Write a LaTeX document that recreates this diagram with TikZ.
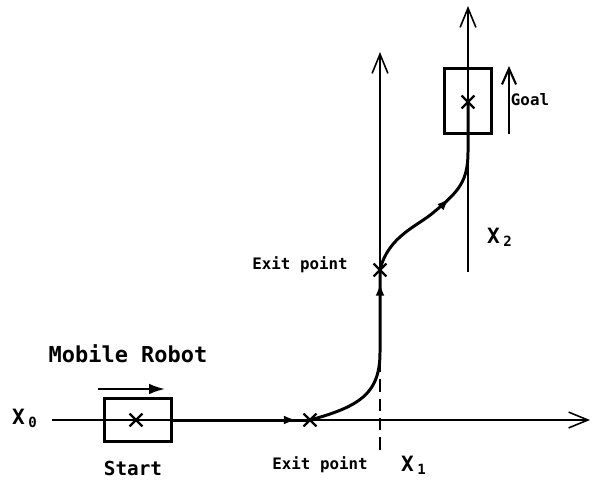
\documentclass[tikz,border=0pt]{standalone}
\usepackage{fontspec}
\setmainfont{DejaVu Sans Mono}
\usetikzlibrary{arrows.meta, positioning, shapes.misc, decorations.markings}

\tikzset{
  axis/.style={line width=0.9pt, -{Straight Barb[length=11pt, width=9pt, line width=0.9pt]}},
  track/.style={line width=1.7pt},
  xmark/.style={cross out, draw, line width=1.3pt, minimum size=6pt, inner sep=0pt},
  robotbox/.style={draw, line width=1.2pt, inner sep=0pt},
  midarrow/.style={postaction={decorate}, decoration={markings, mark=at position #1 with {\arrow{Latex[length=7pt, width=5pt]}}}},
  lbl/.style={font=\fontsize{9}{10}\selectfont\bfseries}
}

\begin{document}
\begin{tikzpicture}[x=0.02cm, y=-0.02cm]
  \useasboundingbox (0,0) rectangle (594,487);
  % axes
  \coordinate (a0) at (52,420);  \coordinate (a1) at (590,420);
  \coordinate (v0) at (380,360); \coordinate (v1) at (380,52);
  \coordinate (d1) at (380,452);
  \coordinate (w0) at (468,272); \coordinate (w1) at (468,6);
  \draw[axis] (a0) -- (a1);
  \draw[axis] (v0) -- (v1);
  \draw[line width=0.9pt, dashed, dash pattern=on 7pt off 4pt] (v0) -- (d1);
  \draw[axis] (w0) -- (w1);
  \node[font=\fontsize{12}{12}\selectfont\bfseries] (x0) at (25,418) {X\,\textsubscript{0}};
  \node[font=\fontsize{12}{12}\selectfont\bfseries] (x1) at (414,465) {X\,\textsubscript{1}};
  \node[font=\fontsize{12}{12}\selectfont\bfseries] (x2) at (500,237) {X\,\textsubscript{2}};

  % start and goal
  \node[robotbox, minimum width=1.34cm, minimum height=0.86cm] (start) at (138,420) {};
  \node[xmark] (sx) at (136,420) {};
  \node[robotbox, minimum width=0.94cm, minimum height=1.3cm] (goal) at (468,101) {};
  \node[xmark] (gx) at (468,102) {};
  \node[xmark] (exA) at (310,420) {};
  \node[xmark] (exB) at (380,270) {};

  % driving directions
  \coordinate (r0) at (98,389);  \coordinate (r1) at (165,389);
  \coordinate (g0) at (509,134); \coordinate (g1) at (509,66);
  \draw[line width=1.2pt, -{Latex[length=9pt, width=6pt]}] (r0) -- (r1);
  \draw[line width=1.2pt, -{Straight Barb[length=9pt, width=8pt, line width=1.2pt]}] (g0) -- (g1);

  % robot path
  \draw[track, midarrow=0.9] (start.east) -- (exA.center);
  \draw[track, midarrow=0.93] (exA.center) .. controls (362,406) and (380,392) .. (380,352) -- (exB.center);
  \draw[track, midarrow=0.5] (exB.center) .. controls (388,236) and (418,226) .. (434,212)
    .. controls (458,192) and (468,182) .. (468,152) -- (gx.center);

  % labels
  \node[font=\fontsize{12.5}{14}\selectfont\bfseries] (mr) at (128,354) {Mobile Robot};
  \node[font=\fontsize{11}{12}\selectfont\bfseries] (st) at (133,468) {Start};
  \node[lbl] (ep1) at (320,465) {Exit point};
  \node[lbl] (ep2) at (300,265) {Exit point};
  \node[lbl] (gl) at (530,100) {Goal};
\end{tikzpicture}
\end{document}
